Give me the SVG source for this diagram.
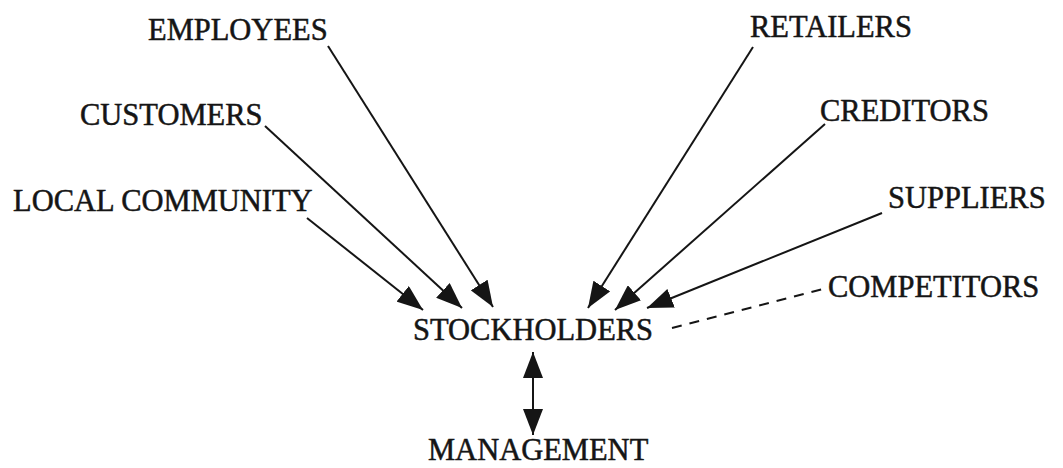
<svg xmlns="http://www.w3.org/2000/svg" width="1063" height="468" viewBox="0 0 1063 468">
<defs>
<style>
.lbl{font-family:"Liberation Serif","Times New Roman",serif;font-size:30.5px;fill:#151515;stroke:#151515;stroke-width:0.5px;}
.c{stroke:#151515;stroke-width:2;fill:none;}
.d{stroke-dasharray:10 8;}
</style>
<marker id="ah" viewBox="0 0 26 20" refX="26" refY="10" markerWidth="26" markerHeight="20" markerUnits="userSpaceOnUse" orient="auto-start-reverse">
<path d="M0,0 L26,10 L0,20 Z" fill="#151515"/>
</marker>
</defs>
<rect width="1063" height="468" fill="#fff"/>
<g id="connectors">
<path class="c" d="M328,46 L493,307" marker-end="url(#ah)"/>
<path class="c" d="M265,126 L462,308" marker-end="url(#ah)"/>
<path class="c" d="M307,218 L423,310" marker-end="url(#ah)"/>
<path class="c" d="M753,47 L588,308" marker-end="url(#ah)"/>
<path class="c" d="M825,124 L615,310" marker-end="url(#ah)"/>
<path class="c" d="M882,213 L647,308" marker-end="url(#ah)"/>
<path class="c d" d="M672,328 L827,288"/>
<path class="c" d="M533,352 L533,435" marker-start="url(#ah)" marker-end="url(#ah)"/>
</g>
<g id="employees"><text class="lbl" x="148" y="40">EMPLOYEES</text></g>
<g id="customers"><text class="lbl" x="80" y="125">CUSTOMERS</text></g>
<g id="local-community"><text class="lbl" x="13" y="211">LOCAL COMMUNITY</text></g>
<g id="retailers"><text class="lbl" x="750" y="37">RETAILERS</text></g>
<g id="creditors"><text class="lbl" x="820" y="121">CREDITORS</text></g>
<g id="suppliers"><text class="lbl" x="888" y="208">SUPPLIERS</text></g>
<g id="competitors"><text class="lbl" x="828" y="297">COMPETITORS</text></g>
<g id="stockholders"><text class="lbl" x="413" y="340">STOCKHOLDERS</text></g>
<g id="management"><text class="lbl" x="428" y="460">MANAGEMENT</text></g>
</svg>
